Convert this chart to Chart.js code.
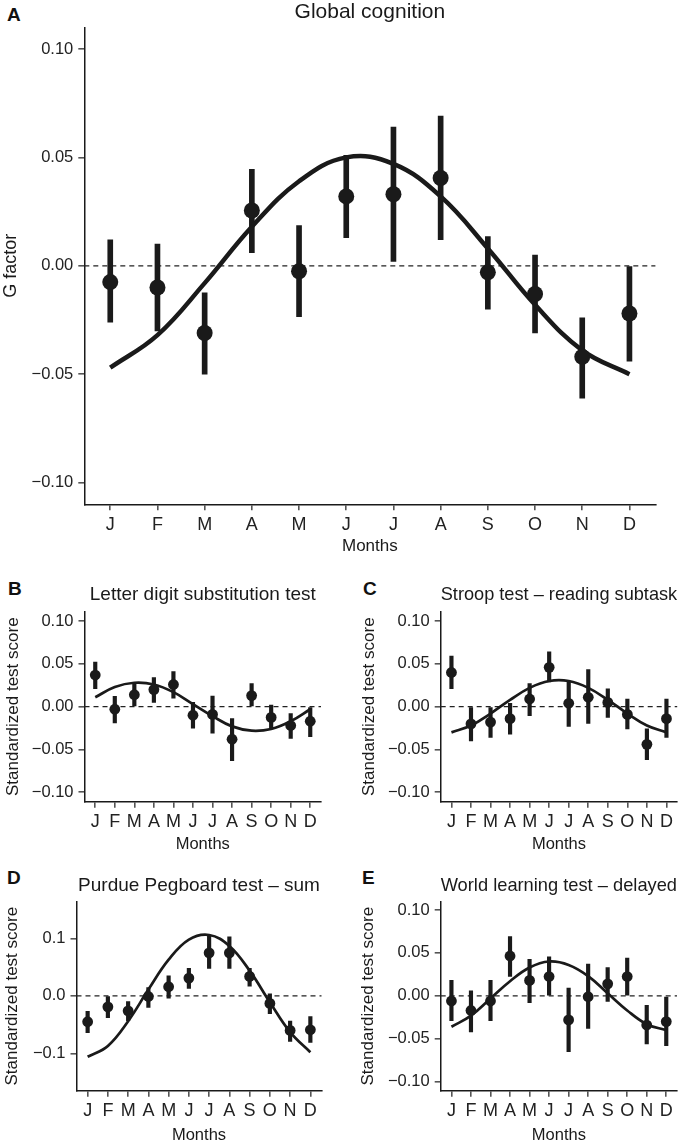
<!DOCTYPE html>
<html>
<head>
<meta charset="utf-8">
<script src="https://cdn.jsdelivr.net/npm/chart.js@4/dist/chart.umd.min.js"></script>
<style>
  html, body { margin: 0; padding: 0; background: #fff; }
  body { position: relative; width: 688px; height: 1140px; overflow: hidden; font-family: "Liberation Sans", Arial, sans-serif; }
  canvas { position: absolute; }
  .tag { position: absolute; font-weight: bold; font-size: 19px; line-height: 19px; color: #111; }
</style>
</head>
<body>
<div class="tag" style="left:7px;top:5px">A</div>
<div class="tag" style="left:8px;top:579px">B</div>
<div class="tag" style="left:363px;top:579px">C</div>
<div class="tag" style="left:7px;top:868px">D</div>
<div class="tag" style="left:362px;top:868px">E</div>

<canvas id="cA" width="688" height="560" style="left:0;top:0"></canvas>
<canvas id="cB" width="344" height="290" style="left:0;top:570px"></canvas>
<canvas id="cC" width="344" height="290" style="left:344px;top:570px"></canvas>
<canvas id="cD" width="344" height="290" style="left:0;top:860px"></canvas>
<canvas id="cE" width="344" height="290" style="left:344px;top:860px"></canvas>

<script>
const months = ['J', 'F', 'M', 'A', 'M', 'J', 'J', 'A', 'S', 'O', 'N', 'D'];

const yTicks = [-0.10, -0.05, 0, 0.05, 0.10];
const yTicksPeg = [-0.1, 0, 0.1];

// A - global cognition
const gMean = [-0.0075, -0.010, -0.031, 0.0255, -0.0025, 0.032, 0.033, 0.0405, -0.003, -0.013, -0.042, -0.022];
const gLow  = [-0.026, -0.030, -0.050, 0.006, -0.0235, 0.013, 0.002, 0.012, -0.020, -0.031, -0.061, -0.044];
const gHigh = [0.012, 0.010, -0.0125, 0.0445, 0.0185, 0.051, 0.064, 0.069, 0.0135, 0.005, -0.024, 0.000];
const gFit  = [-0.047, -0.032, -0.008, 0.018, 0.039, 0.050, 0.047, 0.032, 0.008, -0.018, -0.039, -0.050];

// B - letter digit substitution
const ldsMean = [0.037, -0.003, 0.014, 0.020, 0.026, -0.010, -0.009, -0.038, 0.013, -0.0125, -0.022, -0.017];
const ldsLow  = [0.021, -0.019, 0.000, 0.005, 0.010, -0.025, -0.031, -0.063, 0.000, -0.026, -0.037, -0.035];
const ldsHigh = [0.052, 0.012, 0.028, 0.034, 0.041, 0.005, 0.0125, -0.014, 0.027, 0.002, -0.008, 0.000];
const ldsFit  = [0.011, 0.023, 0.028, 0.026, 0.017, 0.003, -0.011, -0.023, -0.028, -0.026, -0.017, -0.003];

// C - stroop reading
const stroopMean = [0.040, -0.020, -0.018, -0.014, 0.009, 0.046, 0.004, 0.011, 0.005, -0.009, -0.044, -0.014];
const stroopLow  = [0.021, -0.040, -0.036, -0.032, -0.0105, 0.029, -0.023, -0.0195, -0.0125, -0.026, -0.062, -0.036];
const stroopHigh = [0.059, 0.000, 0.000, 0.004, 0.027, 0.064, 0.029, 0.0435, 0.021, 0.009, -0.026, 0.009];
const stroopFit  = [-0.030, -0.022, -0.008, 0.008, 0.022, 0.030, 0.030, 0.022, 0.008, -0.008, -0.022, -0.030];

// D - purdue pegboard
const pegMean = [-0.045, -0.019, -0.026, -0.001, 0.016, 0.031, 0.075, 0.075, 0.034, -0.013, -0.060, -0.059];
const pegLow  = [-0.064, -0.038, -0.043, -0.020, -0.004, 0.013, 0.048, 0.048, 0.017, -0.031, -0.079, -0.081];
const pegHigh = [-0.027, -0.001, -0.010, 0.0145, 0.035, 0.048, 0.106, 0.103, 0.048, 0.0035, -0.044, -0.036];
const pegFit  = [-0.106, -0.087, -0.044, 0.011, 0.063, 0.098, 0.106, 0.087, 0.044, -0.011, -0.063, -0.098];

// E - word learning delayed
const wltMean = [-0.006, -0.017, -0.006, 0.0465, 0.018, 0.0225, -0.028, -0.001, 0.014, 0.0225, -0.034, -0.030];
const wltLow  = [-0.029, -0.042, -0.029, 0.0225, -0.008, 0.000, -0.065, -0.038, -0.0065, 0.000, -0.056, -0.058];
const wltHigh = [0.018, 0.006, 0.018, 0.069, 0.0425, 0.0455, 0.009, 0.037, 0.033, 0.044, -0.011, -0.0015];
const wltFit  = [-0.036, -0.023, -0.003, 0.017, 0.033, 0.040, 0.036, 0.023, 0.003, -0.017, -0.033, -0.040];

const ink = '#1a1a1a';
Chart.defaults.font.family = '"Liberation Sans", Arial, sans-serif';
Chart.defaults.color = '#222';

// dashed reference line at zero
const zeroLine = {
  id: 'zeroLine',
  beforeDatasetsDraw(chart) {
    const {ctx, chartArea: a, scales: {y}} = chart;
    const py = y.getPixelForValue(0);
    ctx.save();
    ctx.setLineDash([5, 4]);
    ctx.lineWidth = 1.2;
    ctx.strokeStyle = '#222';
    ctx.beginPath();
    ctx.moveTo(a.left, py);
    ctx.lineTo(a.right, py);
    ctx.stroke();
    ctx.restore();
  }
};

function fmt(v, dec) {
  return (v < 0 ? '\u2212' : '') + Math.abs(v).toFixed(dec);
}

function panel(id, p) {
  const ctx = document.getElementById(id);
  const w = ctx.width, h = ctx.height;
  new Chart(ctx, {
    type: 'line',
    data: {
      datasets: [
        {
          type: 'bar',
          data: months.map((m, i) => ({x: i + 1, y: [p.low[i], p.high[i]]})),
          backgroundColor: ink,
          borderWidth: 0,
          barThickness: p.barW,
          grouped: false,
          order: 3
        },
        {
          data: months.map((m, i) => ({x: i + 1, y: p.fit[i]})),
          borderColor: ink,
          borderWidth: p.lineW,
          pointRadius: 0,
          tension: 0.4,
          fill: false,
          order: 2
        },
        {
          data: months.map((m, i) => ({x: i + 1, y: p.mean[i]})),
          showLine: false,
          pointRadius: p.pointR,
          pointBackgroundColor: ink,
          pointBorderWidth: 0,
          order: 1
        }
      ]
    },
    options: {
      responsive: false,
      animation: false,
      layout: {padding: {left: 0, right: w - p.right, top: 0, bottom: h - p.bottom - p.xH}},
      plugins: {
        legend: {display: false},
        tooltip: {enabled: false},
        title: {
          display: true,
          text: p.title,
          fullSize: false,
          color: ink,
          font: {size: p.titleSize, weight: 'normal', lineHeight: 1},
          padding: p.titlePad
        }
      },
      scales: {
        x: {
          type: 'linear',
          min: 0.45,
          max: 12.55,
          offset: false,
          afterBuildTicks: s => { s.ticks = months.map((m, i) => ({value: i + 1})); },
          afterFit: s => { s.height = p.xH; },
          ticks: {
            autoSkip: false,
            maxRotation: 0,
            padding: 4,
            font: {size: 18},
            color: '#222',
            callback: v => months[v - 1]
          },
          grid: {drawOnChartArea: false, drawTicks: true, tickLength: p.tickLen, color: '#555', lineWidth: 1.6, offset: false},
          border: {display: true, color: ink, width: 1.5},
          title: {display: true, text: 'Months', color: ink, font: {size: p.xTitleSize}, padding: {top: 0, bottom: p.xTitlePad}}
        },
        y: {
          type: 'linear',
          min: p.yMin,
          max: p.yMax,
          afterBuildTicks: s => { s.ticks = p.yTicks.map(v => ({value: v})); },
          afterFit: s => { s.width = p.left; },
          ticks: {
            padding: 5,
            font: {size: p.tickSize},
            color: '#222',
            callback: v => fmt(v, p.dec)
          },
          grid: {drawOnChartArea: false, drawTicks: true, tickLength: p.tickLen, color: '#555', lineWidth: 1.6},
          border: {display: true, color: ink, width: 1.5},
          title: {display: true, text: p.yTitle, color: ink, font: {size: p.yTitleSize}, padding: {top: p.yTitlePad, bottom: 0}}
        }
      }
    },
    plugins: [zeroLine]
  });
}

panel('cA', {
  title: 'Global cognition', titleSize: 21, titlePad: {top: 1.5, bottom: 4.8},
  yTitle: 'G factor', yTitleSize: 18, yTitlePad: 0,
  left: 84.3, right: 655.4, bottom: 504.3, xH: 52, xTitleSize: 17, xTitlePad: 0,
  tickSize: 16.5, tickLen: 6, yMin: -0.11, yMax: 0.11, yTicks: yTicks, dec: 2,
  mean: gMean, low: gLow, high: gHigh, fit: gFit, pointR: 8, barW: 5, lineW: 4.5
});

const small = {
  titleSize: 19, yTitle: 'Standardized test score', yTitleSize: 17,
  xTitleSize: 16.5, xTitlePad: 0, tickSize: 16.5, tickLen: 6,
  pointR: 5.4, barW: 3.5, lineW: 2.7
};

panel('cB', Object.assign({}, small, {
  title: 'Letter digit substitution test', titlePad: {top: 15.6, bottom: 7.1},
  yTitlePad: 3, left: 84.5, right: 321, bottom: 231.7, xH: 53,
  yMin: -0.111, yMax: 0.111, yTicks: yTicks, dec: 2,
  mean: ldsMean, low: ldsLow, high: ldsHigh, fit: ldsFit
}));

panel('cC', Object.assign({}, small, {
  title: 'Stroop test \u2013 reading subtask', titlePad: {top: 15.6, bottom: 7.1},
  yTitlePad: 14.8, left: 96.7, right: 333.2, bottom: 231.7, xH: 53,
  yMin: -0.111, yMax: 0.111, yTicks: yTicks, dec: 2,
  mean: stroopMean, low: stroopLow, high: stroopHigh, fit: stroopFit
}));

panel('cD', Object.assign({}, small, {
  title: 'Purdue Pegboard test \u2013 sum', titlePad: {top: 16.5, bottom: 6.2},
  yTitlePad: 2.3, left: 76.5, right: 321.5, bottom: 230.7, xH: 55,
  yMin: -0.165, yMax: 0.164, yTicks: yTicksPeg, dec: 1,
  mean: pegMean, low: pegLow, high: pegHigh, fit: pegFit
}));

panel('cE', Object.assign({}, small, {
  title: 'World learning test \u2013 delayed', titlePad: {top: 16.5, bottom: 6.2},
  yTitlePad: 13.8, left: 96.7, right: 333, bottom: 230.7, xH: 55,
  yMin: -0.1105, yMax: 0.1097, yTicks: yTicks, dec: 2,
  mean: wltMean, low: wltLow, high: wltHigh, fit: wltFit
}));
</script>
</body>
</html>
